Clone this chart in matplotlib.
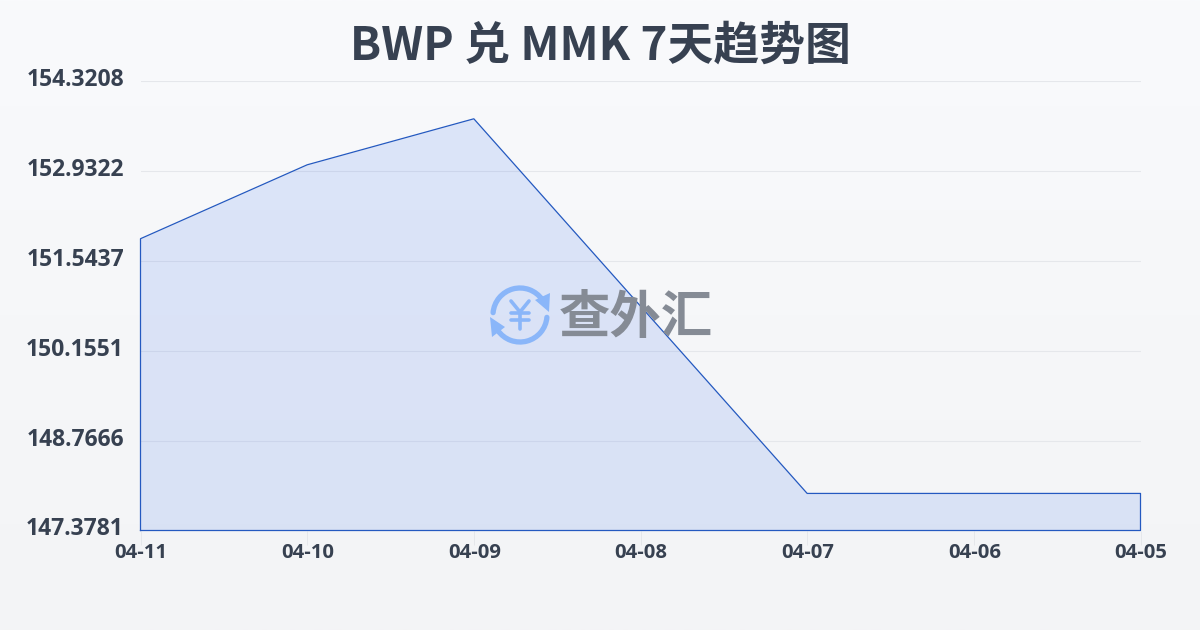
import matplotlib
matplotlib.use("Agg")
import matplotlib.pyplot as plt
from matplotlib.patches import Arc, Polygon
from matplotlib import font_manager
import numpy as np

plt.rcParams['font.family'] = ['Noto Sans CJK SC', 'DejaVu Sans']

dates = ['04-11', '04-10', '04-09', '04-08', '04-07', '04-06', '04-05']
rates = [151.88, 153.02, 153.73, 150.84, 147.95, 147.95, 147.95]
y_ticks = [147.3781, 148.7666, 150.1551, 151.5437, 152.9322, 154.3208]
y_labels = ['147.3781', '148.7666', '150.1551', '151.5437', '152.9322', '154.3208']

title = 'BWP 兑 MMK 7天趋势图'
text_color = '#374151'
line_color = '#2459c0'
grid_color = '#e5e7eb'
logo_blue = '#8ab6f9'

# which of the latin families really has a bold face here
bold_names = sorted({f.name for f in font_manager.fontManager.ttflist
                     if f.name in ('Noto Sans', 'Open Sans', 'Lato', 'Roboto', 'Inter') and f.weight in (700, 'bold')})
label_font = ['Noto Sans' if 'Noto Sans' in bold_names else 'Open Sans', 'DejaVu Sans']

fig = plt.figure(figsize=(12, 6.3), dpi=100)

# background gradient
bg = fig.add_axes([0, 0, 1, 1], zorder=0)
bg.imshow(np.linspace(0, 1, 256).reshape(-1, 1), aspect='auto',
          cmap=matplotlib.colors.LinearSegmentedColormap.from_list('bg', ['#f9fafc', '#f3f4f6']))
bg.axis('off')

# plot area is x 140..1140, y 80..530 in pixels, half pixel offset for crisp lines
ax = fig.add_axes([140.5 / 1200, 1 - 530.5 / 630, 1000 / 1200, 450 / 630], zorder=1)
ax.patch.set_alpha(0)
x = np.arange(len(dates))
ax.set_xlim(0, len(dates) - 1)
ax.set_ylim(y_ticks[0], y_ticks[-1])

ax.fill_between(x, rates, y_ticks[0], color='#2563eb', alpha=0.13, lw=0, zorder=2)
# outline closes down to the axis on both sides
ax.plot(np.r_[x[0], x, x[-1], x[0]], np.r_[y_ticks[0], rates, y_ticks[0], y_ticks[0]],
        color=line_color, lw=0.9, zorder=3, clip_on=False)

for s in ax.spines.values():
    s.set_visible(False)
ax.set_yticks(y_ticks)
ax.set_yticklabels([])
ax.set_xticks(x)
ax.set_xticklabels([])
ax.grid(axis='y', color=grid_color, lw=0.8, zorder=1)
ax.tick_params(axis='y', length=0)
ax.tick_params(axis='x', length=10, width=0.7, color=grid_color)

# overlay in pixel coordinates for labels and logo
ov = fig.add_axes([0, 0, 1, 1], zorder=3)
ov.set_xlim(0, 1200)
ov.set_ylim(630, 0)
ov.axis('off')

ov.text(600, 47, title, ha='center', va='center', fontsize=33, fontweight='bold', color=text_color)

for lab, py in zip(y_labels, [529, 440, 350, 260, 170, 80]):
    ov.text(124, py, lab, ha='right', va='center', fontsize=16.5, fontweight='bold',
            color=text_color, family=label_font)
for lab, px in zip(dates, np.linspace(141, 1141, len(dates))):
    ov.text(px, 553, lab, ha='center', va='center', fontsize=14.6, fontweight='bold',
            color=text_color, family=label_font)

# watermark logo
ov.add_patch(Arc((520, 315), 54, 54, theta1=185, theta2=325, color=logo_blue, lw=3.8, capstyle='round'))
ov.add_patch(Arc((520, 315), 54, 54, theta1=5, theta2=145, color=logo_blue, lw=3.8, capstyle='round'))
ov.add_patch(Polygon([[535, 300], [550, 293], [549, 312]], color=logo_blue, lw=0))
ov.add_patch(Polygon([[490, 317], [505, 327], [492, 337]], color=logo_blue, lw=0))
# yen sign drawn with strokes, the glyph is too thin at this weight
for xs, ys in [([511, 520, 529], [301, 312, 301]), ([520, 520], [312, 329]),
               ([511, 529], [313, 313]), ([511, 529], [320, 320])]:
    ov.plot(xs, ys, color=logo_blue, lw=2.6, solid_capstyle='round', solid_joinstyle='round')
ov.text(636, 318, '查外汇', ha='center', va='center', fontsize=37, fontweight='bold',
        color='#858b95')
ov.set_xlim(0, 1200)
ov.set_ylim(630, 0)

fig.savefig('out.png', dpi=100)
